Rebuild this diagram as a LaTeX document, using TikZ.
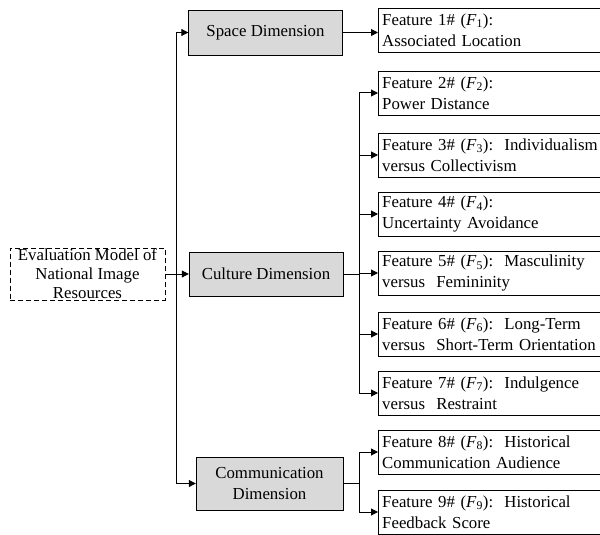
\documentclass[tikz,border=0pt]{standalone}
\usepackage{fontspec}
\setmainfont{Liberation Serif}
\usetikzlibrary{arrows.meta}
\newcommand{\Fi}[1]{\textit{F}\textsubscript{#1}}
\begin{document}
\begin{tikzpicture}[x=1pt,y=-1pt,
  every node/.style={font=\fontsize{16.8}{21}\selectfont},
  dimbox/.style={draw, fill=gray!30, minimum height=45pt, align=center, inner sep=2pt},
  featbox/.style={draw, anchor=west, minimum width=221pt, minimum height=44pt, align=left, text width=214pt, inner xsep=4pt, inner ysep=2pt},
  conn/.style={line width=1pt, -{Triangle[length=7pt,width=7pt]}},
  line/.style={line width=1pt}]
\useasboundingbox (0,0) rectangle (600,535);
\clip (0,0) rectangle (600,535);
\node[draw, dash pattern=on 5pt off 3pt, minimum width=155pt, minimum height=52pt, align=center, inner sep=1pt] (eval) at (87.5,274) {Evaluation Model of\\[-2pt]National Image\\[-2pt]Resources};
\node[dimbox, minimum width=154pt] (space) at (265.5,32.5) {Space Dimension};
\node[dimbox, minimum width=154pt, minimum height=44pt] (culture) at (266,274) {Culture Dimension};
\node[dimbox, minimum width=147pt, minimum height=53pt] (comm) at (269.5,483.5) {Communication\\Dimension};
\node[featbox] (f1) at (378,30) {Feature 1\# (\Fi{1}):\\Associated Location};
\node[featbox] (f2) at (378,93) {Feature 2\# (\Fi{2}):\\Power Distance};
\node[featbox] (f3) at (378,155) {\mbox{Feature 3\# (\Fi{3}):\ \ Individualism}\\versus Collectivism};
\node[featbox] (f4) at (378,214) {Feature 4\# (\Fi{4}):\\Uncertainty Avoidance};
\node[featbox] (f5) at (378,273) {Feature 5\# (\Fi{5}):\ \ Masculinity\\versus\ \ Femininity};
\node[featbox, minimum width=240pt, text width=234pt] (f6) at (378,334) {Feature 6\# (\Fi{6}):\ \ Long-Term\\versus\ \ Short-Term Orientation};
\node[featbox] (f7) at (378,393) {Feature 7\# (\Fi{7}):\ \ Indulgence\\versus\ \ Restraint};
\node[featbox] (f8) at (378,452) {Feature 8\# (\Fi{8}):\ \ Historical\\Communication Audience};
\node[featbox] (f9) at (378,512) {Feature 9\# (\Fi{9}):\ \ Historical\\Feedback Score};
\coordinate (mv) at (176,274);
\coordinate (cv) at (359,274);
\coordinate (mv2) at (359,483.5);
\draw[conn] (eval.east) -- (culture.west);
\draw[conn] (mv) |- (space.west);
\draw[conn] (mv) |- (comm.west);
\draw[conn] (space.east) -- (space.east -| f1.west);
\draw[line] (culture.east) -- (cv);
\foreach \f in {f2,f3,f4,f5,f6,f7} \draw[conn] (cv) |- (\f.west);
\draw[line] (comm.east) -- (mv2);
\foreach \f in {f8,f9} \draw[conn] (mv2) |- (\f.west);
\end{tikzpicture}
\end{document}
